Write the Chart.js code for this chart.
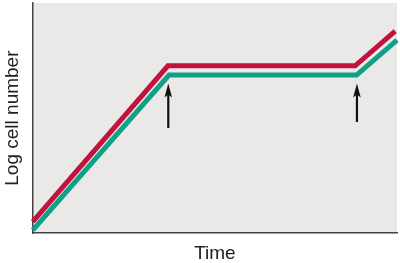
<!DOCTYPE html>
<html>
<head>
<meta charset="utf-8">
<script src="https://cdn.jsdelivr.net/npm/chart.js@4"></script>
<style>
  html, body { margin: 0; padding: 0; background: #fff; }
  #wrap { width: 400px; height: 263px; }
</style>
</head>
<body>
<div id="wrap"><canvas id="chart" width="400" height="263"></canvas></div>
<script>
"use strict";

// ---- data (time, log cell number), arbitrary units 0..10 ----
const timeRed = [0, 3.71, 8.85, 9.95];
const logRed = [0.5, 7.27, 7.27, 8.78];
const timeGreen = [0, 3.74, 8.89, 10];
const logGreen = [0.13, 6.87, 6.87, 8.39];

// arrows marking the transfer points
const arrowTime = [3.72, 8.9];
const arrowTail = [4.57, 4.83];
const arrowTip = [6.5, 6.5];

const axisMin = 0;
const axisMax = 10;

const pts = (xs, ys) => xs.map((x, i) => ({ x, y: ys[i] }));

// gray plot background
const bgPlugin = {
  id: "plotBg",
  beforeDraw(chart) {
    const { ctx, chartArea: a } = chart;
    ctx.save();
    ctx.fillStyle = "#ebe9e8";
    ctx.fillRect(a.left, a.top, a.right - a.left, a.bottom - a.top);
    ctx.restore();
  }
};

// black up-arrows
const arrowPlugin = {
  id: "arrows",
  afterDatasetsDraw(chart) {
    const { ctx, scales } = chart;
    ctx.save();
    ctx.strokeStyle = "#111";
    ctx.fillStyle = "#111";
    ctx.lineWidth = 2.2;
    arrowTime.forEach((t, i) => {
      const x = scales.x.getPixelForValue(t);
      const y0 = scales.y.getPixelForValue(arrowTail[i]);
      const y1 = scales.y.getPixelForValue(arrowTip[i]);
      ctx.beginPath();
      ctx.moveTo(x, y0);
      ctx.lineTo(x, y1 + 9);
      ctx.stroke();
      ctx.beginPath();
      ctx.moveTo(x, y1);
      ctx.lineTo(x - 3.8, y1 + 14);
      ctx.lineTo(x, y1 + 11);
      ctx.lineTo(x + 3.8, y1 + 14);
      ctx.closePath();
      ctx.fill();
    });
    ctx.restore();
  }
};

const fontFam = "'Liberation Sans', Arial, Helvetica, sans-serif";

new Chart(document.getElementById("chart"), {
  type: "line",
  data: {
    datasets: [
      {
        data: pts(timeRed, logRed),
        borderColor: "#c0143f",
        borderWidth: 5,
        borderJoinStyle: "miter",
        pointRadius: 0,
        tension: 0
      },
      {
        data: pts(timeGreen, logGreen),
        borderColor: "#10a085",
        borderWidth: 5,
        borderJoinStyle: "miter",
        pointRadius: 0,
        tension: 0
      }
    ]
  },
  options: {
    responsive: false,
    animation: false,
    clip: false,
    layout: { padding: { top: 3, right: 3, left: 0, bottom: 0 } },
    plugins: { legend: { display: false }, tooltip: { enabled: false } },
    scales: {
      x: {
        type: "linear",
        min: axisMin,
        max: axisMax,
        grid: { display: false, drawTicks: false },
        border: { display: true, color: "#444", width: 1.5 },
        ticks: { display: false },
        title: {
          display: true,
          text: "Time",
          color: "#222",
          font: { family: fontFam, size: 19 },
          padding: { top: 9, bottom: -2 }
        }
      },
      y: {
        type: "linear",
        min: axisMin,
        max: axisMax,
        grid: { display: false, drawTicks: false },
        border: { display: true, color: "#444", width: 1.5 },
        ticks: { display: false },
        title: {
          display: true,
          text: "Log cell number",
          color: "#222",
          font: { family: fontFam, size: 19 },
          padding: { top: 1, bottom: 9 }
        }
      }
    }
  },
  plugins: [bgPlugin, arrowPlugin]
});
</script>
</body>
</html>
